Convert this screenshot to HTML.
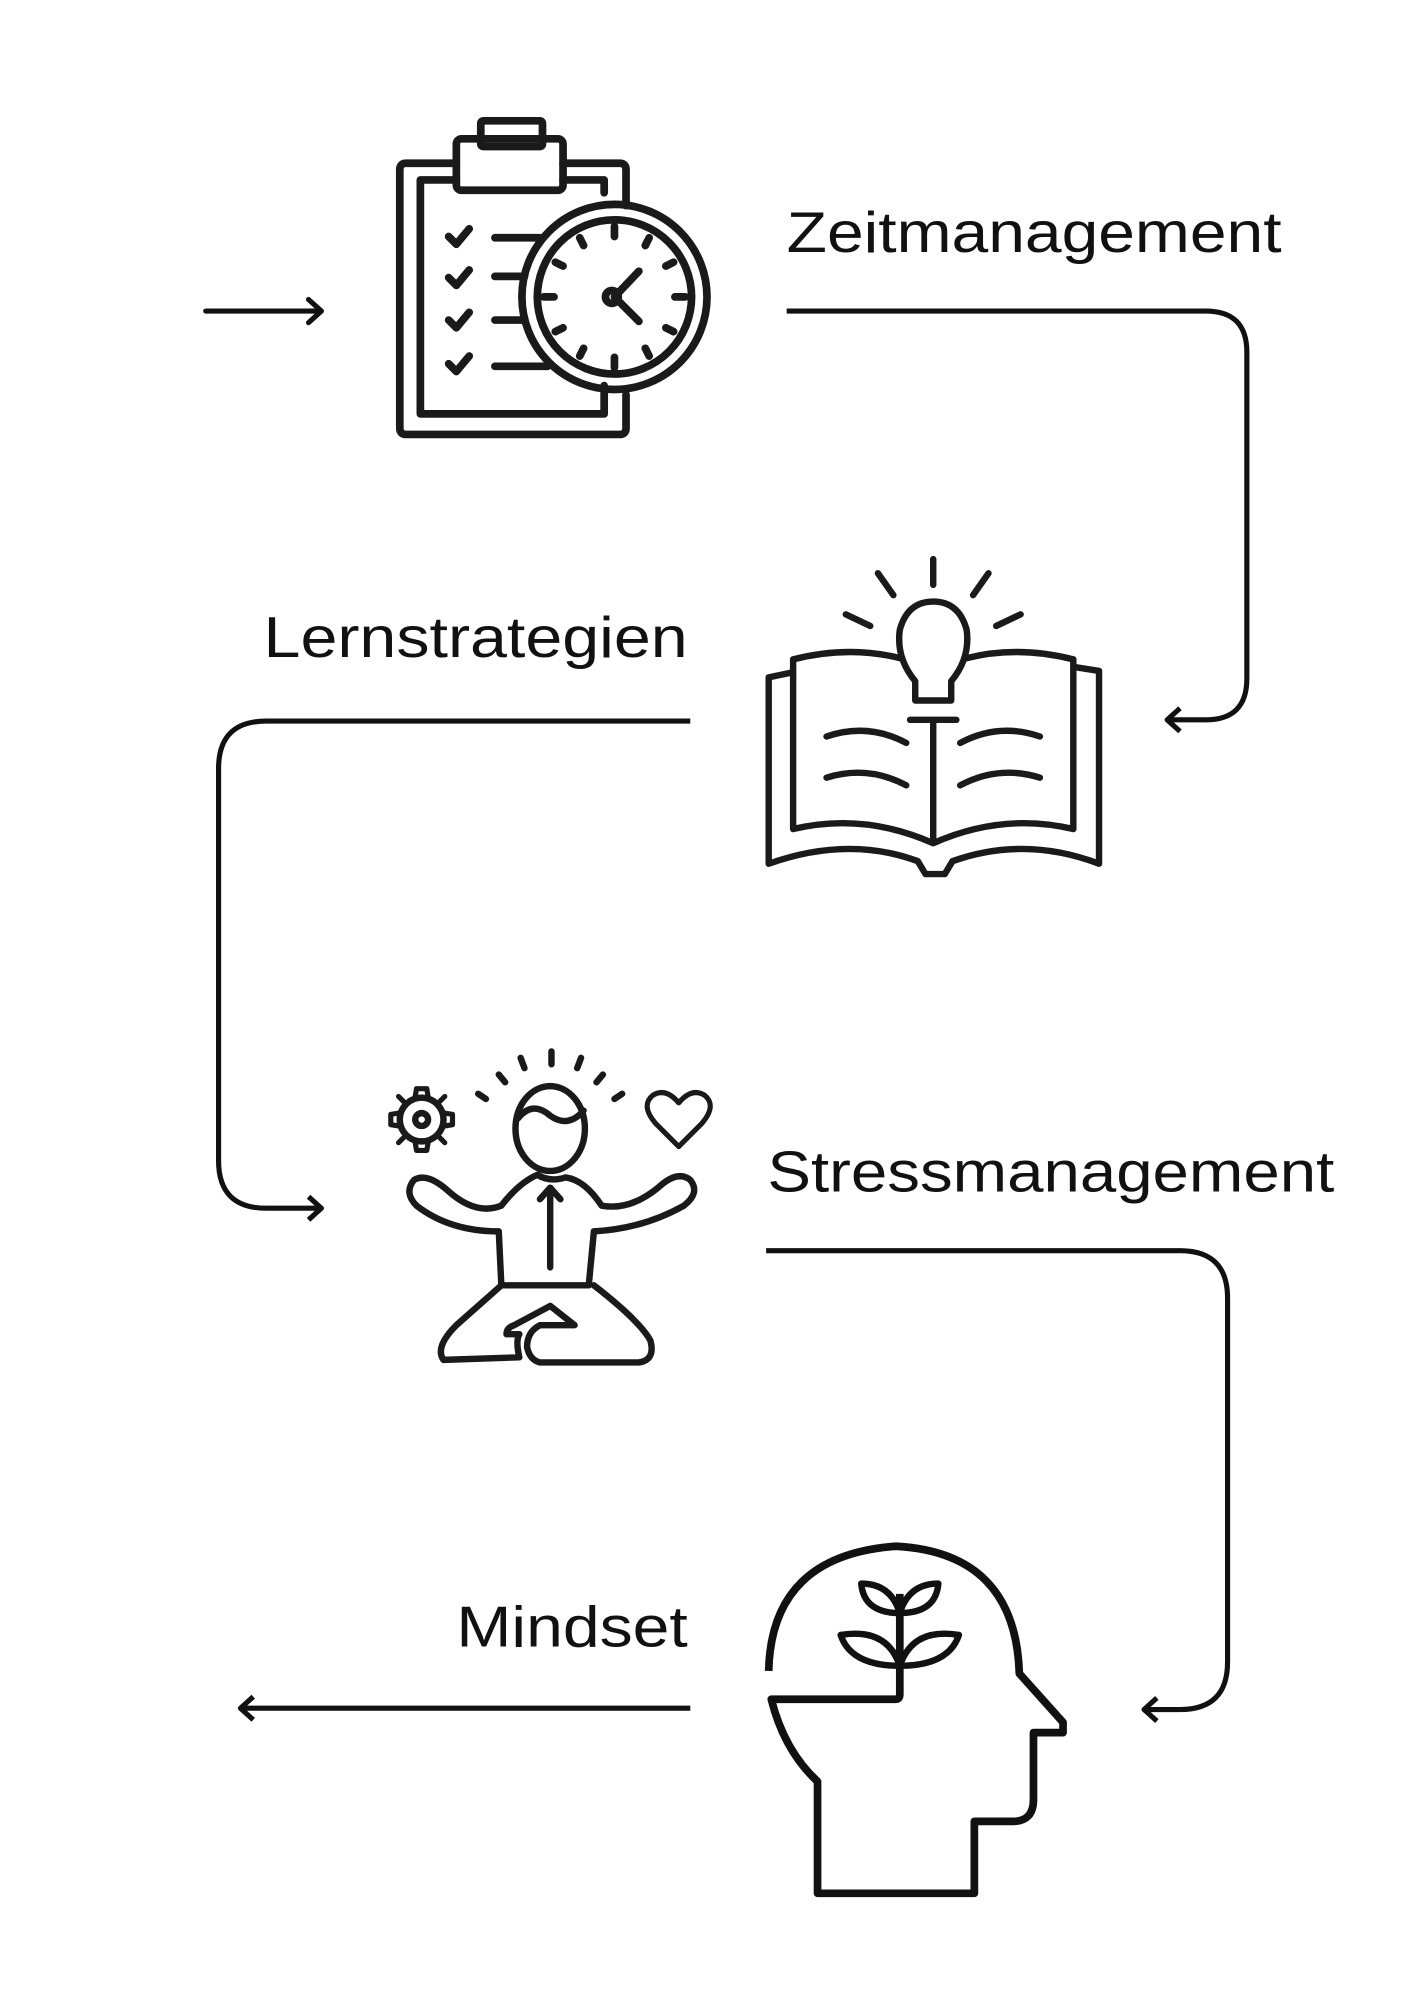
<!DOCTYPE html>
<html><head><meta charset="utf-8"><style>
html,body{margin:0;padding:0;background:#fff;}
svg{display:block;}
text{font-family:"Liberation Sans",sans-serif;fill:#111;}
</style></head><body>
<svg width="1414" height="2000" viewBox="0 0 1100 1556" xmlns="http://www.w3.org/2000/svg">
<rect width="1100" height="1556" fill="#fff"/>
<g fill="none" stroke="#111" stroke-width="4" stroke-linecap="round" stroke-linejoin="round">
<path d="M160,242 L250,242 M240,233 L250,242 L240,251"/>
<path d="M612,242 L938,242 Q970,242 970,274 L970,528 Q970,560 938,560 L908,560 M918,551 L908,560 L918,569" stroke-linecap="butt"/>
<path d="M537,561 L207,561 Q170,561 170,598 L170,903 Q170,940 207,940 L250,940 M240,931 L250,940 L240,949" stroke-linecap="butt"/>
<path d="M596,973 L918,973 Q955,973 955,1010 L955,1293 Q955,1330 918,1330 L890,1330 M900,1321 L890,1330 L900,1339" stroke-linecap="butt"/>
<path d="M537,1329 L187,1329 M197,1320 L187,1329 L197,1338" stroke-linecap="butt"/>
</g>
<text x="612" y="196" font-size="45" textLength="385" lengthAdjust="spacingAndGlyphs">Zeitmanagement</text>
<text x="205" y="511" font-size="45" textLength="330" lengthAdjust="spacingAndGlyphs">Lernstrategien</text>
<text x="597" y="927" font-size="45" textLength="441" lengthAdjust="spacingAndGlyphs">Stressmanagement</text>
<text x="355" y="1281" font-size="45" textLength="180" lengthAdjust="spacingAndGlyphs">Mindset</text>

<g fill="none" stroke="#1a1a1a" stroke-width="6" stroke-linecap="round" stroke-linejoin="round">
<path d="M355,127 L316,127 Q311,127 311,132 L311,333 Q311,338 316,338 L482,338 Q487,338 487,333 L487,307"/>
<path d="M438,127 L482,127 Q487,127 487,132 L487,160"/>
<path d="M355,140 L327,140 L327,322 L470,322 L470,300"/>
<path d="M438,140 L470,140 L470,150"/>
<rect x="355" y="108" width="83" height="40" rx="4"/>
<rect x="374" y="94" width="48" height="20" rx="2"/>
<circle cx="478" cy="231" r="72"/>
<circle cx="478" cy="231" r="60"/>
<path d="M478,231 L497,211 M478,231 L497,250"/>
<circle cx="476" cy="231" r="5"/>
<path d="M478,176 v8 M478,278 v8 M423,231 h8 M525,231 h8 M451,185 l3,6 M505,185 l-3,6 M432,204 l6,3 M524,204 l-6,3 M432,258 l6,-3 M524,258 l-6,-3 M451,277 l3,-6 M505,277 l-3,-6"/>
<path d="M349,184 l6,6 l10,-12 M349,216 l6,6 l10,-12 M349,249 l6,6 l10,-12 M349,283 l6,6 l10,-12"/>
<path d="M385,185 L420,185 M385,215 L408,215 M385,249 L408,249 M385,285 L426,285"/>
</g>

<g fill="none" stroke="#1a1a1a" stroke-width="5" stroke-linecap="round" stroke-linejoin="round">
<path d="M617,523 L598,527 L598,672 Q660,650 714,670 L720,680 L735,680 L741,670 Q797,650 855,672 L855,522 L836,519"/>
<path d="M700,512 Q660,502 617,513 L617,645 Q672,632 726,656 Q780,632 835,645 L835,513 Q792,502 752,512"/>
<path d="M726,562 L726,654"/>
<path d="M712,545 L712,530 Q697,512 700,490 Q706,468 726,468 Q746,468 752,490 Q755,512 740,530 L740,545 Z"/>
<path d="M708,560 L744,560"/>
<path d="M726,435 L726,455 M683,446 L695,463 M769,446 L757,463 M658,478 L677,487 M794,478 L775,487"/>
<path d="M643,573 Q675,562 705,578 M643,605 Q675,595 705,611 M809,573 Q777,562 747,578 M809,605 Q777,595 747,611"/>
</g>

<g fill="none" stroke="#1a1a1a" stroke-width="5" stroke-linecap="round" stroke-linejoin="round">
<ellipse cx="428" cy="878" rx="27" ry="33"/>
<path d="M403,870 Q414,856 428,868 Q442,878 454,864"/>
<path d="M429,818 v10 M405,823 l3,8 M452,823 l-3,8 M388,836 l5,6 M469,836 l-5,6 M372,851 l6,4 M484,851 l-6,4"/>
<circle cx="328" cy="871" r="17"/>
<circle cx="328" cy="871" r="5"/>
<path d="M323,853 l1,-6 h8 l1,6 M323,889 l1,6 h8 l1,-6 M310,866 l-6,1 v8 l6,1 M346,866 l6,1 v8 l-6,1 M314,857 l-4,-4 M342,857 l4,-4 M314,885 l-4,4 M342,885 l4,4" stroke-width="4"/>
<path d="M528,892 L510,874 Q498,860 508,852 Q518,846 528,858 Q538,846 548,852 Q558,860 546,874 Z" stroke-width="4"/>
<path d="M390,938 Q370,946 348,926 Q332,912 322,918 Q314,928 324,938 Q350,958 388,958 L390,1000 L458,1000 L462,958 Q500,956 532,938 Q545,928 537,918 Q527,910 512,924 Q490,942 468,938 Q455,918 440,916 Q428,920 418,914 Q404,920 390,938 Z"/>
<path d="M428,926 L428,986 M420,933 L428,924 L436,933"/>
<path d="M390,1000 L355,1031 Q338,1048 345,1058 L404,1056 Q401,1043 404,1038 L394,1038 Q394,1033 400,1031 L428,1016 L447,1031 L420,1031 Q410,1036 410,1048 Q412,1058 420,1060 L497,1060 Q510,1058 506,1043 Q498,1028 462,1000"/>
</g>

<g fill="none" stroke="#111" stroke-width="6" stroke-linecap="round" stroke-linejoin="round">
<path d="M598,1300 Q600,1210 697,1203 Q790,1208 793,1302 L827,1340 L827,1348 L804,1348 L804,1400 Q804,1417 788,1417 L758,1417 L758,1473 L636,1473 L636,1386 Q610,1362 600,1322 L697,1322 Q700,1322 700,1318 L700,1240" stroke-linecap="butt"/>
<path d="M700,1255 Q672,1255 670,1232 Q693,1232 700,1255 Z M700,1255 Q728,1255 730,1232 Q707,1232 700,1255 Z" stroke-width="5"/>
<path d="M700,1296 Q662,1296 654,1272 Q690,1266 700,1296 Z M700,1296 Q738,1296 746,1272 Q710,1266 700,1296 Z" stroke-width="5"/>
</g>
</svg>
</body></html>
